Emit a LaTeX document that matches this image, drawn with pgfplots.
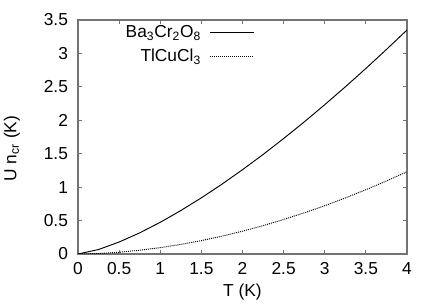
\documentclass[border=0pt]{standalone}
\usepackage{fontspec}
\setmainfont{Liberation Sans}
\usepackage{pgfplots}
\pgfplotsset{compat=1.18}
\begin{document}
\begin{tikzpicture}[x=1pt,y=1pt]
\begin{axis}[
  name=ax,
  scale only axis,
  width=246.75pt, height=175.5pt,
  xmin=0, xmax=4, ymin=0, ymax=3.5,
  xtick={0,0.5,...,4}, ytick={0,0.5,...,3.5},
  tick align=inside,
  major tick length=3pt,
  axis line style={black!55, line width=0.8pt},
  every tick/.style={black!55, line width=0.6pt},
  tick label style={font=\fontsize{13}{15}\selectfont},
  /pgf/number format/assume math mode=true,
  xticklabel style={yshift=-3pt},
  yticklabel style={xshift=-4pt},
  xlabel={T (K)},
  ylabel={U n\textsubscript{cr} (K)},
  label style={font=\fontsize{13}{15}\selectfont},
  xlabel style={at={(rel axis cs:0.5,0)}, anchor=north, yshift=-19pt},
  ylabel style={at={(rel axis cs:0,0.45)}, anchor=south, yshift=40pt},
  legend style={draw=none, fill=none, at={(rel axis cs:0.542,0.995)}, anchor=north east,
    font=\fontsize{13}{15}\selectfont, row sep=3pt, inner sep=1pt,
    nodes={inner sep=2pt}},
  legend cell align=right,
  legend plot pos=right,
  legend image code/.code={\path[draw=none,fill=none] (0pt,0pt) rectangle (1pt,0.1pt); \draw[#1] (5pt,0pt) -- (38pt,0pt);},
]
\addplot[black, line width=0.7pt] coordinates {
(0,0) (0.25,0.067) (0.5,0.179) (0.75,0.316) (1,0.474) (1.25,0.650) (1.5,0.840)
(1.75,1.044) (2,1.261) (2.25,1.488) (2.5,1.727) (2.75,1.975) (3,2.233)
(3.25,2.500) (3.5,2.775) (3.75,3.059) (4,3.35)};
\addlegendentry{Ba\textsubscript{3}Cr\textsubscript{2}O\textsubscript{8}}
\addplot[black, line width=0.7pt, dash pattern=on 0.75pt off 0.75pt] coordinates {
(0,0) (0.25,0.007) (0.5,0.026) (0.75,0.056) (1,0.095) (1.25,0.143) (1.5,0.200)
(1.75,0.267) (2,0.341) (2.25,0.424) (2.5,0.516) (2.75,0.615) (3,0.722)
(3.25,0.838) (3.5,0.961) (3.75,1.092) (4,1.23)};
\addlegendentry{TlCuCl\textsubscript{3}}
\end{axis}
\pgfresetboundingbox
\path ([shift={(-58.5pt,-38.25pt)}]ax.south west) rectangle ([shift={(21.75pt,15pt)}]ax.north east);
\end{tikzpicture}
\end{document}
